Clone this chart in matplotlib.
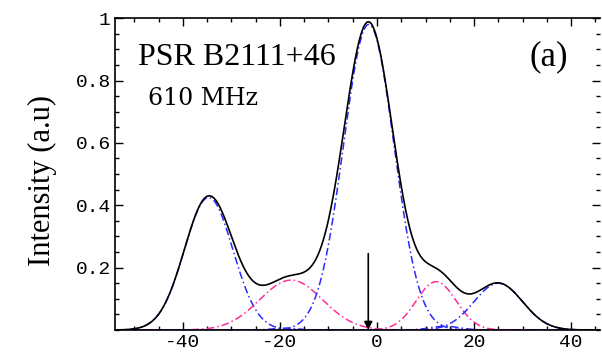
import numpy as np
import matplotlib.pyplot as plt
from matplotlib.ticker import MultipleLocator, FixedLocator

# Gaussian components: centre (deg), amplitude, width (deg)
centres = [-34.7, -17.7, -1.7, 12.2, 25.0, -19.0, 14.0]
amps = [0.425, 0.16, 0.98, 0.155, 0.15, 0.006, 0.012]
widths = [5.0, 6.5, 5.2, 4.1, 5.0, 2.5, 3.0]
colours = ['blue', 'pink', 'blue', 'pink', 'blue', 'blue', 'blue']

xticks = [-40, -20, 0, 20, 40]
yticks = [0.2, 0.4, 0.6, 0.8, 1.0]
ylabels = ['0.2', '0.4', '0.6', '0.8', '1']
arrow_x = -1.8

col_map = {'blue': '#2a2aff', 'pink': '#ff2d96'}

x = np.linspace(-54, 46, 800)
comps = [a * np.exp(-(x - c) ** 2 / (2 * w ** 2)) for c, a, w in zip(centres, amps, widths)]
total = np.sum(comps, axis=0)

fig = plt.figure(figsize=(6.02, 3.56), dpi=100)
ax = fig.add_axes([0.191, 0.073, 0.806, 0.876])

ax.axhline(0, color=col_map['pink'], lw=2.2, zorder=1)
for comp, col in zip(comps, colours):
    ax.plot(x, comp, color=col_map[col], lw=1.1, ls=(0, (5, 2, 1, 2)), zorder=2)
ax.plot(x, total, color='black', lw=1.2, zorder=3)

ax.annotate('', xy=(arrow_x, 0.0), xytext=(arrow_x, 0.245),
            arrowprops=dict(arrowstyle='-|>', color='black', lw=1.2,
                            mutation_scale=12, shrinkA=0, shrinkB=0), zorder=4)

ax.set_xlim(-54, 46)
ax.set_ylim(0, 1.0)

ax.xaxis.set_major_locator(FixedLocator(xticks))
ax.xaxis.set_minor_locator(MultipleLocator(5))
ax.yaxis.set_major_locator(FixedLocator(yticks))
ax.yaxis.set_minor_locator(MultipleLocator(0.05))
ax.set_xticklabels(['-40', '-20', '0', '20', '40'], family='Liberation Mono', fontsize=14)
ax.set_yticklabels(ylabels, family='Liberation Mono', fontsize=14)

ax.tick_params(which='both', direction='in', top=True, right=True, width=1)
ax.tick_params(which='major', length=6, pad=3)
ax.tick_params(which='minor', length=3)

for side in ['left', 'top', 'bottom']:
    ax.spines[side].set_linewidth(1.2)
ax.spines['right'].set_visible(False)

ax.set_ylabel('Intensity (a.u)', family='Liberation Serif', fontsize=22)
ax.yaxis.set_label_coords(-0.12, 0.48)

ax.text(0.047, 0.849, 'PSR B2111+46', transform=ax.transAxes, va='baseline',
        family='Liberation Serif', fontsize=23)
ax.text(0.068, 0.721, '610 MHz', transform=ax.transAxes, va='baseline',
        family='DejaVu Serif', fontsize=17)
ax.text(0.855, 0.849, '(a)', transform=ax.transAxes, va='baseline',
        family='Liberation Serif', fontsize=25)

fig.savefig('out.png', dpi=100)
